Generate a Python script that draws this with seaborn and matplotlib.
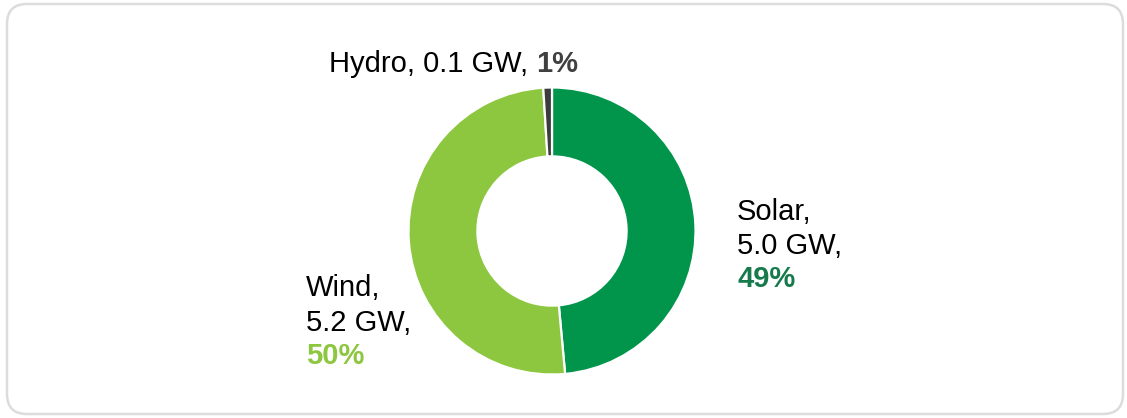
import matplotlib
matplotlib.use("Agg")
import matplotlib.pyplot as plt
from matplotlib.patches import FancyBboxPatch
import seaborn as sns

# capacity by source, GW
sources = ["Solar", "Wind", "Hydro"]
capacity_gw = [5.0, 5.2, 0.1]
wedge_colors = ["#00954A", "#8DC63F", "#3C3C3C"]
pct_colors = ["#177A4C", "#8DC63F", "#404040"]

sns.set_style("white")
plt.rcParams["font.family"] = ["Liberation Sans", "DejaVu Sans"]

W, H = 1127, 418
fig = plt.figure(figsize=(W / 100, H / 100), dpi=100)

# rounded card frame (inches)
frame = FancyBboxPatch((0.07, 0.04), 11.16, 4.10,
                       boxstyle="round,pad=0,rounding_size=0.2",
                       transform=fig.dpi_scale_trans, facecolor="white",
                       edgecolor="#DCDCDC", linewidth=1.8, zorder=-1)
fig.patches.append(frame)

# donut
cx, cy, R = 552, 231, 143.5
ax = fig.add_axes([(cx - R) / W, (H - cy - R) / H, 2 * R / W, 2 * R / H])
ax.set_facecolor("none")
ax.pie(capacity_gw, colors=wedge_colors, startangle=90, counterclock=False,
       radius=1, wedgeprops=dict(width=0.48, edgecolor="white", linewidth=1.6))
ax.set_xlim(-1, 1)
ax.set_ylim(-1, 1)
ax.axis("off")

total = sum(capacity_gw)
pcts = [f"{round(v / total * 100)}%" for v in capacity_gw]
fs = 21


def ftxt(x, y, s, color="black", **kw):
    fig.text(x / W, 1 - y / H, s, fontsize=fs, va="baseline", color=color, **kw)


# Solar
ftxt(737, 220, f"{sources[0]},")
ftxt(737, 254, f"{capacity_gw[0]:.1f} GW,")
ftxt(737, 287, pcts[0], color=pct_colors[0], fontweight="bold")

# Wind
ftxt(306, 296, f"{sources[1]},")
ftxt(306, 331, f"{capacity_gw[1]:.1f} GW,")
ftxt(306, 364, pcts[1], color=pct_colors[1], fontweight="bold")

# Hydro
ftxt(528, 72, f"{sources[2]}, {capacity_gw[2]:.1f} GW,", ha="right")
ftxt(536, 72, pcts[2], color=pct_colors[2], fontweight="bold")

fig.savefig("out.png", dpi=100)
